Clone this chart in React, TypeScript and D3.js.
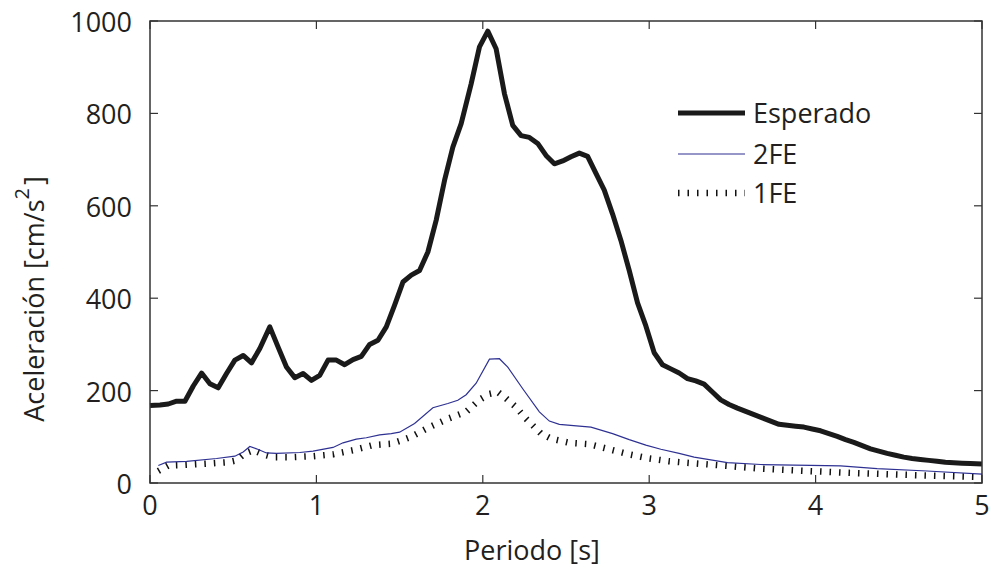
import React from "react";
import * as d3 from "d3";

const esperado: [number, number][] = [
  [0.00,168],[0.06,169],[0.11,171],[0.16,177],[0.21,177],[0.26,210],[0.31,238],[0.36,215],[0.41,206],[0.46,237],
  [0.51,266],[0.56,276],[0.61,260],[0.66,291],[0.72,338],[0.77,294],[0.82,251],[0.87,228],[0.92,237],[0.97,222],
  [1.02,233],[1.07,266],[1.12,266],[1.17,256],[1.22,267],[1.27,274],[1.32,300],[1.37,309],[1.42,338],[1.47,385],
  [1.52,435],[1.57,450],[1.62,460],[1.67,500],[1.72,569],[1.77,655],[1.82,727],[1.87,778],[1.93,864],[1.98,944],
  [2.03,978],[2.08,940],[2.13,843],[2.18,774],[2.23,752],[2.28,748],[2.33,735],[2.38,709],[2.43,691],[2.48,697],
  [2.53,706],[2.58,714],[2.63,707],[2.68,670],[2.73,634],[2.78,582],[2.83,525],[2.88,460],[2.93,390],[2.98,340],
  [3.03,282],[3.08,256],[3.13,247],[3.18,238],[3.23,226],[3.28,221],[3.33,214],[3.38,197],[3.43,180],[3.48,170],
  [3.53,162],[3.58,155],[3.63,148],[3.68,141],[3.73,134],[3.78,127],[3.83,125],[3.88,123],[3.93,121],[3.98,117],
  [4.03,113],[4.08,107],[4.13,101],[4.18,94],[4.23,88],[4.28,81],[4.33,74],[4.38,69],[4.43,64],[4.48,60],
  [4.53,56],[4.58,53],[4.63,51],[4.68,49],[4.73,47],[4.78,45],[4.83,44],[4.88,43],[4.93,42],[5.00,41],
];

const fe2: [number, number][] = [
  [0.05,38],[0.10,45],[0.22,47],[0.40,53],[0.51,58],[0.56,67],[0.60,79],[0.64,74],[0.70,65],[0.76,64],
  [0.90,66],[0.98,69],[1.10,77],[1.16,87],[1.24,95],[1.30,98],[1.38,104],[1.45,107],[1.50,110],[1.59,129],
  [1.70,163],[1.79,172],[1.85,179],[1.90,191],[1.96,216],[2.04,268],[2.10,269],[2.15,251],[2.24,204],[2.34,154],
  [2.40,134],[2.46,127],[2.58,123],[2.65,121],[2.78,107],[2.88,94],[2.98,82],[3.07,73],[3.18,64],[3.27,56],
  [3.47,44],[3.67,40],[3.97,38],[4.15,37],[4.37,31],[4.67,26],[5.00,19],
];

const fe1: [number, number][] = [
  [0.05,26],[0.11,38],[0.20,39],[0.35,42],[0.47,45],[0.52,49],[0.57,64],[0.62,71],[0.68,62],[0.74,56],
  [0.86,56],[0.98,58],[1.10,62],[1.22,71],[1.34,82],[1.45,85],[1.51,92],[1.57,100],[1.68,121],[1.79,139],
  [1.90,154],[1.98,180],[2.04,193],[2.09,197],[2.14,183],[2.20,164],[2.26,139],[2.35,107],[2.41,96],[2.52,87],
  [2.64,84],[2.76,73],[2.88,62],[3.00,53],[3.12,47],[3.22,44],[3.47,37],[3.67,31],[3.95,26],[4.20,22],
  [4.60,17],[5.00,13],
];

const xTicks = [0, 1, 2, 3, 4, 5];
const yTicks = [0, 200, 400, 600, 800, 1000];
const legendLabels = ["Esperado", "2FE", "1FE"];

const W = 989, H = 567;
const L = 150, R = 982, T = 21, B = 483;
const FONT = "'Open Sans', 'DejaVu Sans', sans-serif";
const TXT = "#231f20";
const DASH = "1.5 8";

export default function App() {
  const x = d3.scaleLinear().domain([0, 5]).range([L, R]);
  const y = d3.scaleLinear().domain([0, 1000]).range([B, T]);
  const line = d3.line<[number, number]>().x(d => x(d[0])).y(d => y(d[1]));
  const tick = 8;
  const legY = [113, 154, 193];

  return (
    <svg width={W} height={H} style={{ position: "absolute", left: 0, top: 0, background: "#fff" }}>
      <rect x={0} y={0} width={W} height={H} fill="#fff" />
      {/* series */}
      <path d={line(fe1) || ""} fill="none" stroke="#111" strokeWidth={6.5} strokeDasharray={DASH} />
      <path d={line(fe2) || ""} fill="none" stroke="#2e3192" strokeWidth={1.2} />
      <path d={line(esperado) || ""} fill="none" stroke="#1a1a1a" strokeWidth={5} strokeLinejoin="round" />

      {/* box */}
      <rect x={L} y={T} width={R - L} height={B - T} fill="none" stroke="#333" strokeWidth={1.5} />
      {xTicks.map(t => (
        <g key={"x" + t}>
          <line x1={x(t)} x2={x(t)} y1={B} y2={B - tick} stroke="#333" strokeWidth={1.2} />
          <line x1={x(t)} x2={x(t)} y1={T} y2={T + tick} stroke="#333" strokeWidth={1.2} />
          <text x={x(t)} y={515} textAnchor="middle" fontFamily={FONT} fontSize={27} fill={TXT}>{t}</text>
        </g>
      ))}
      {yTicks.map(t => (
        <g key={"y" + t}>
          <line x1={L} x2={L + tick} y1={y(t)} y2={y(t)} stroke="#333" strokeWidth={1.2} />
          <line x1={R} x2={R - tick} y1={y(t)} y2={y(t)} stroke="#333" strokeWidth={1.2} />
          <text x={132} y={y(t) + 11} textAnchor="end" fontFamily={FONT} fontSize={27} fill={TXT}>{t}</text>
        </g>
      ))}

      {/* axis labels */}
      <text x={532} y={560} textAnchor="middle" fontFamily={FONT} fontSize={27} fill={TXT}>Periodo [s]</text>
      <text transform="translate(44,299) rotate(-90)" textAnchor="middle" fontFamily={FONT} fontSize={27} fill={TXT}>
        Aceleración [cm/s<tspan dy={-15} fontSize={20}>2</tspan><tspan dy={15} dx={3}>]</tspan>
      </text>

      {/* legend */}
      <line x1={678} x2={745} y1={legY[0]} y2={legY[0]} stroke="#1a1a1a" strokeWidth={5} />
      <line x1={678} x2={745} y1={legY[1]} y2={legY[1]} stroke="#2e3192" strokeWidth={1.2} />
      <line x1={678} x2={745} y1={legY[2]} y2={legY[2]} stroke="#111" strokeWidth={6.5} strokeDasharray={DASH} />
      {legendLabels.map((s, i) => (
        <text key={s} x={753} y={legY[i] + 10} fontFamily={FONT} fontSize={27} fill={TXT}>{s}</text>
      ))}
    </svg>
  );
}
